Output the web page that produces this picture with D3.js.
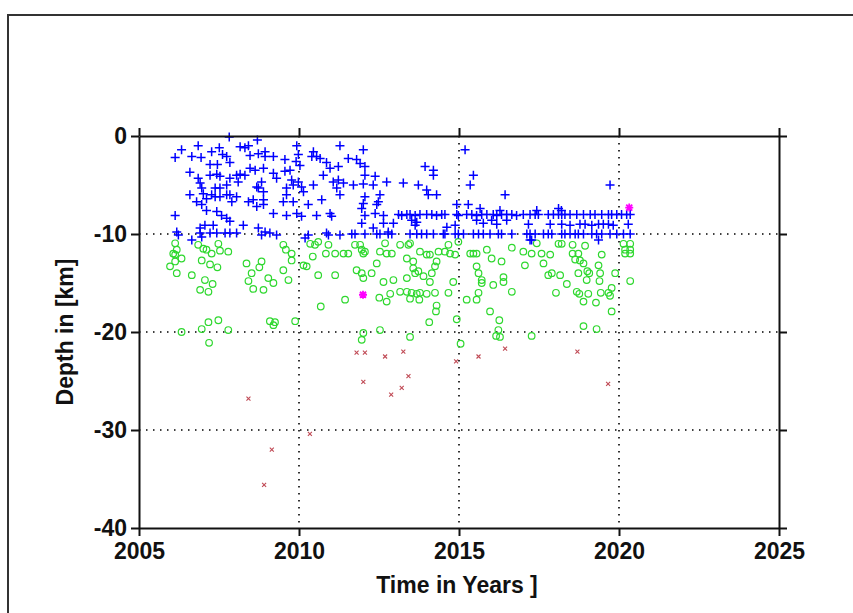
<!DOCTYPE html>
<html>
<head>
<meta charset="utf-8">
<script src="https://cdn.jsdelivr.net/npm/d3@7"></script>
<style>
  body { margin: 0; background: #fff; }
  svg text { font-family: "Liberation Sans", Arial, sans-serif; font-weight: bold; fill: #111; }
</style>
</head>
<body>
<script>

// shallow events, 0 to -10 km  [year, depth]
const bluePts = [
  [2007.82,-0.1],[2006.33,-1.4],[2006.13,-2.2],[2006.85,-1.0],[2006.65,-2.1],[2006.94,-2.2],[2007.27,-1.6],[2007.51,-1.2],
  [2007.61,-1.9],[2007.74,-2.1],[2007.84,-2.7],[2007.22,-2.9],[2007.45,-2.9],[2008.16,-1.1],[2008.31,-1.2],[2008.42,-1.0],
  [2008.70,-0.4],[2008.47,-2.0],[2008.73,-1.8],[2008.94,-1.6],[2008.94,-2.1],[2009.20,-2.1],[2009.56,-2.4],[2009.93,-1.0],
  [2009.98,-1.9],[2009.91,-2.6],[2010.03,-3.0],[2010.45,-1.6],[2010.55,-2.1],[2010.40,-2.1],[2010.66,-2.3],[2010.86,-2.7],
  [2011.23,-3.1],[2011.28,-1.0],
  [2006.59,-3.7],[2006.85,-4.3],[2006.91,-4.8],[2007.22,-4.0],[2007.43,-3.9],[2007.53,-4.1],[2007.84,-4.3],[2008.05,-4.0],
  [2008.16,-3.9],[2008.31,-4.0],[2008.10,-4.7],[2007.74,-5.0],[2007.84,-6.0],[2006.96,-5.3],[2007.01,-5.9],[2007.38,-5.3],
  [2007.53,-5.3],[2007.27,-6.0],[2008.47,-3.3],[2008.63,-3.5],[2008.89,-3.3],[2008.83,-4.7],[2008.68,-5.2],[2009.20,-3.8],
  [2009.30,-4.3],[2009.56,-3.6],[2009.72,-3.5],[2009.77,-4.5],[2009.82,-5.0],[2009.61,-5.3],[2009.98,-4.7],[2010.08,-5.2],
  [2010.14,-5.7],[2010.45,-5.0],[2010.76,-4.0],[2010.97,-3.3],[2011.07,-4.7],[2011.23,-4.5],[2011.39,-4.8],
  [2006.59,-6.0],[2006.80,-6.7],[2007.11,-6.4],[2007.38,-6.2],[2007.53,-6.2],[2007.74,-6.0],[2007.90,-6.7],[2008.05,-6.2],
  [2006.96,-7.0],[2007.11,-7.6],[2007.43,-7.7],[2007.58,-8.1],[2007.74,-8.4],[2007.84,-8.7],[2007.06,-9.1],[2006.91,-9.4],
  [2007.32,-9.1],[2008.26,-9.1],[2008.42,-6.7],[2008.57,-6.5],[2008.68,-7.2],[2008.89,-5.7],[2008.73,-5.3],[2008.89,-6.5],
  [2008.89,-7.0],[2009.20,-7.9],[2009.51,-6.7],[2009.61,-6.0],[2009.82,-6.7],[2009.61,-8.1],[2009.93,-7.9],[2010.08,-8.2],
  [2010.29,-7.0],[2010.55,-8.1],[2010.71,-6.5],[2010.97,-7.9],[2011.02,-8.2],[2011.18,-5.3],[2011.28,-6.0],
  [2006.13,-8.1],[2006.18,-9.8],[2006.23,-10.1],[2006.91,-9.9],[2006.96,-10.3],[2007.22,-9.9],[2007.43,-9.9],[2007.69,-9.9],
  [2007.84,-9.9],[2008.05,-9.9],[2006.65,-10.6],[2008.73,-9.4],[2008.83,-10.1],[2008.94,-9.8],[2009.09,-9.9],[2009.30,-10.1],
  [2010.19,-10.4],[2010.29,-10.1],[2010.86,-9.9],[2010.92,-10.1],[2011.28,-10.1],
  [2012.01,-1.4],[2011.54,-2.3],[2011.80,-2.4],[2011.91,-2.8],[2012.06,-3.1],[2011.70,-5.0],[2012.01,-4.9],[2012.32,-5.0],
  [2012.06,-4.0],[2012.38,-4.1],[2012.74,-4.7],[2013.26,-4.8],[2013.73,-5.0],[2013.94,-3.1],[2014.20,-3.5],[2014.20,-4.0],
  [2013.99,-5.5],[2014.04,-6.0],[2014.30,-6.0],[2012.53,-6.0],[2012.48,-6.7],[2012.06,-6.2],[2012.01,-6.9],[2011.96,-7.4],
  [2012.06,-8.1],[2012.43,-7.0],[2012.38,-7.9],[2012.64,-8.1],[2012.95,-8.9],[2011.96,-8.9],[2012.32,-9.4],[2012.64,-8.9],
  [2013.63,-9.1],[2014.62,-9.3],[2014.93,-7.0],[2014.88,-9.1],[2015.19,-1.4],[2015.45,-4.0],[2015.35,-5.0],[2016.44,-6.0],
  [2015.29,-7.0],[2015.66,-7.4],[2017.43,-7.6],[2017.22,-10.6],[2013.52,-8.6],[2013.68,-8.8],[2015.55,-8.6],[2015.76,-8.9],
  [2016.02,-8.6],[2016.18,-9.0],[2016.49,-8.6],[2017.17,-9.0],[2016.28,-7.6],[2012.79,-9.8],
  [2013.11,-8.0],[2013.21,-8.1],[2013.37,-8.0],[2013.47,-8.0],[2013.63,-8.1],[2013.78,-8.0],[2013.99,-8.0],[2014.15,-8.0],
  [2014.30,-8.1],[2014.46,-8.0],[2014.56,-8.0],[2014.93,-8.0],[2014.98,-8.1],[2015.24,-8.0],[2015.40,-8.0],[2015.55,-8.1],
  [2015.71,-8.0],[2015.87,-8.0],[2016.07,-8.0],[2016.18,-8.1],[2016.33,-8.0],[2016.49,-8.0],[2016.65,-8.0],[2016.80,-8.1],
  [2017.01,-8.0],[2017.22,-8.0],[2017.48,-8.0],[2017.79,-8.0],[2017.38,-8.0],[2017.95,-8.0],[2018.11,-8.0],[2018.21,-8.0],
  [2018.31,-8.0],[2018.47,-8.0],[2018.68,-8.0],[2018.89,-8.0],[2019.10,-8.0],[2019.25,-8.0],[2019.46,-8.0],[2019.67,-8.0],
  [2019.77,-8.0],[2019.93,-8.0],[2020.08,-8.0],[2020.24,-8.0],[2020.35,-8.0],
  [2017.85,-9.0],[2018.21,-9.0],[2018.47,-9.1],[2018.78,-9.0],[2018.94,-9.0],[2019.15,-9.1],[2019.36,-9.0],[2019.51,-9.0],
  [2019.67,-9.0],[2019.82,-9.1],[2020.29,-9.0],
  [2011.65,-10.0],[2011.75,-10.0],[2012.06,-10.0],[2012.43,-10.0],[2012.53,-10.0],[2012.79,-10.0],[2012.90,-10.0],[2013.47,-10.0],
  [2013.68,-10.0],[2013.83,-10.0],[2013.99,-10.0],[2014.20,-10.0],[2014.51,-10.0],[2014.56,-10.0],[2014.88,-10.0],[2014.98,-10.0],
  [2015.14,-10.0],[2015.45,-10.0],[2015.61,-10.0],[2015.76,-10.0],[2015.97,-10.0],[2016.23,-10.0],[2016.33,-10.0],[2016.65,-10.0],
  [2017.12,-10.0],[2017.22,-10.0],[2017.38,-10.0],[2017.64,-10.0],[2017.79,-10.0],[2017.90,-10.0],[2018.21,-10.0],[2018.31,-10.0],
  [2018.47,-10.0],[2018.63,-10.0],[2018.73,-10.0],[2018.89,-10.0],[2019.15,-10.0],[2019.30,-10.0],[2019.46,-10.0],[2019.72,-10.0],
  [2019.93,-10.0],[2020.14,-10.0],[2020.35,-10.0],
  [2018.11,-7.4],[2018.20,-7.6],[2019.72,-5.0],[2019.36,-10.6],[2017.27,-10.6]
]

// middle events, -10 to -21 km
const greenPts = [
  [2006.13,-10.95],[2006.07,-12.0],[2006.18,-11.6],[2006.13,-12.1],[2006.33,-12.5],[2006.13,-12.8],[2005.97,-13.3],[2006.18,-14.0],
  [2006.65,-14.2],[2006.85,-11.1],[2007.01,-11.5],[2007.11,-11.6],[2007.27,-12.0],[2007.53,-11.7],[2007.79,-11.8],[2007.48,-11.0],
  [2006.96,-12.7],[2007.22,-13.1],[2007.45,-13.4],[2007.06,-14.7],[2007.30,-15.1],[2006.91,-15.7],[2007.17,-15.9],[2006.33,-20.0],
  [2006.96,-19.7],[2007.17,-19.0],[2007.48,-18.8],[2007.79,-19.8],[2007.19,-21.1],[2008.36,-13.0],[2008.83,-12.8],[2008.76,-13.4],
  [2008.52,-14.0],[2008.42,-14.8],[2008.57,-15.6],[2008.89,-15.7],[2009.04,-14.5],[2009.20,-15.0],[2009.51,-11.1],[2009.59,-11.6],
  [2009.77,-12.0],[2009.77,-12.7],[2009.51,-13.7],[2009.67,-14.7],[2009.09,-18.9],[2009.25,-19.0],[2009.20,-19.3],[2009.88,-18.9],
  [2010.14,-13.2],[2010.24,-13.3],[2010.35,-11.0],[2010.43,-12.3],[2010.50,-11.1],[2010.60,-10.8],[2010.84,-12.0],[2011.13,-12.0],
  [2011.39,-12.0],[2011.54,-12.0],[2010.92,-11.1],[2010.60,-14.2],[2011.13,-14.2],[2010.68,-17.4],[2011.44,-16.7],
  [2011.75,-11.1],[2011.91,-11.1],[2012.01,-12.0],[2012.06,-11.8],[2011.96,-11.6],[2011.80,-13.7],[2011.96,-14.0],[2012.01,-14.5],
  [2012.27,-14.0],[2012.43,-13.0],[2012.53,-11.8],[2012.69,-10.95],[2012.74,-12.0],[2012.90,-12.0],[2012.64,-14.9],[2012.95,-14.7],
  [2012.51,-16.5],[2012.74,-16.9],[2012.85,-16.1],[2012.53,-19.8],[2012.01,-20.1],[2011.96,-20.8],[2013.16,-11.1],[2013.42,-11.1],
  [2013.47,-10.95],[2013.37,-12.5],[2013.57,-12.8],[2013.16,-15.9],[2013.37,-15.9],[2013.52,-16.0],[2013.68,-16.1],[2013.78,-16.0],
  [2013.47,-16.6],[2013.76,-16.7],[2013.37,-14.5],[2013.63,-14.0],[2013.73,-13.8],[2013.89,-14.3],[2013.57,-13.5],[2013.78,-11.8],
  [2014.09,-12.1],[2013.99,-12.1],[2014.30,-12.8],[2014.25,-13.3],[2014.15,-14.0],[2014.09,-14.9],[2014.36,-11.8],[2014.56,-11.8],
  [2014.67,-11.1],[2014.72,-12.0],[2014.88,-12.1],[2013.99,-16.1],[2014.25,-16.0],[2014.67,-16.0],[2014.30,-17.3],[2014.28,-17.9],
  [2014.07,-19.0],[2013.47,-20.5],[2014.82,-14.9],[2014.93,-18.7],[2015.05,-21.2],[2014.98,-10.8],[2015.24,-16.7],[2015.55,-16.7],
  [2015.61,-16.0],[2015.35,-12.0],[2015.45,-12.0],[2015.55,-12.0],[2015.87,-11.6],[2016.02,-12.5],[2016.33,-12.8],[2016.65,-11.4],
  [2015.55,-13.3],[2015.61,-14.0],[2015.71,-14.7],[2015.71,-15.0],[2016.07,-15.2],[2016.39,-14.4],[2016.39,-14.9],[2016.65,-15.9],
  [2015.97,-17.9],[2016.26,-18.8],[2016.23,-19.8],[2016.16,-20.4],[2016.28,-20.5],[2017.06,-13.2],[2017.01,-11.8],[2017.27,-12.0],
  [2017.58,-12.0],[2017.64,-13.0],[2017.43,-10.95],[2017.27,-20.4],
  [2017.85,-12.1],[2017.79,-14.2],[2017.90,-14.0],[2018.16,-14.2],[2018.37,-15.1],[2018.03,-16.0],[2018.11,-11.0],[2018.21,-11.0],
  [2018.55,-11.1],[2018.94,-11.2],[2018.55,-12.0],[2018.73,-12.0],[2018.63,-12.6],[2018.78,-12.7],[2018.89,-13.0],[2019.46,-12.1],
  [2018.73,-14.0],[2019.01,-13.8],[2019.07,-14.0],[2018.99,-14.7],[2018.68,-15.9],[2018.76,-16.1],[2019.04,-16.1],[2018.89,-16.9],
  [2019.28,-17.0],[2019.36,-13.2],[2019.41,-14.0],[2019.39,-14.8],[2019.88,-14.0],[2019.43,-16.0],[2019.67,-16.0],[2019.72,-16.3],
  [2019.77,-15.5],[2019.77,-17.9],[2018.89,-19.4],[2019.30,-19.7],[2020.14,-11.0],[2020.35,-11.0],[2020.19,-11.6],[2020.35,-11.6],
  [2020.19,-12.0],[2020.35,-12.0],[2020.35,-14.8]
]

// deep events, below -21 km
const redPts = [
  [2008.42,-26.8],[2010.34,-30.4],[2009.15,-32.0],[2008.91,-35.6],[2012.01,-25.1],[2012.88,-26.4],[2013.21,-25.7],[2013.42,-24.5],
  [2014.91,-23.0],[2011.80,-22.1],[2012.06,-22.1],[2012.69,-22.5],[2013.26,-22.0],[2015.61,-22.5],[2016.44,-21.7],[2018.70,-22.0],
  [2019.66,-25.3]
]

// highlighted events
const starPts = [[2020.32,-7.3],[2012.0,-16.2]]

const xTicks = [2005, 2010, 2015, 2020, 2025]
const yTicks = [0, -10, -20, -30, -40]
const xGrid = [2010, 2015, 2020]
const yGrid = [-10, -20, -30]

const WIDTH = 853
const HEIGHT = 613

const plot = { left: 139, right: 779, top: 136, bottom: 528 }

const svg = d3.select('body')
  .append('svg')
  .attr('width', WIDTH)
  .attr('height', HEIGHT)

// outer figure frame
svg.append('rect')
  .attr('x', 8)
  .attr('y', 15)
  .attr('width', 900)
  .attr('height', 700)
  .attr('fill', 'none')
  .attr('stroke', '#333')
  .attr('stroke-width', 2)

const x = d3.scaleLinear().domain([2005, 2025]).range([plot.left, plot.right])
const y = d3.scaleLinear().domain([-40, 0]).range([plot.bottom, plot.top])

// dotted grid
const grid = svg.append('g')
  .attr('stroke', '#000')
  .attr('stroke-width', 1.6)
  .attr('stroke-dasharray', '1.5,5.5')

grid.selectAll('.gx')
  .data(xGrid)
  .enter()
  .append('line')
  .attr('x1', d => x(d)).attr('x2', d => x(d))
  .attr('y1', plot.top).attr('y2', plot.bottom)

grid.selectAll('.gy')
  .data(yGrid)
  .enter()
  .append('line')
  .attr('x1', plot.left).attr('x2', plot.right)
  .attr('y1', d => y(d)).attr('y2', d => y(d))

// markers
svg.append('g')
  .selectAll('path')
  .data(greenPts)
  .enter()
  .append('circle')
  .attr('cx', d => x(d[0]))
  .attr('cy', d => y(d[1]))
  .attr('r', 3.3)
  .attr('fill', 'none')
  .attr('stroke', '#2fd82f')
  .attr('stroke-width', 1.2)

svg.append('g')
  .selectAll('path')
  .data(bluePts)
  .enter()
  .append('path')
  .attr('d', 'M-4.5,0H4.5M0,-4.5V4.5')
  .attr('transform', d => 'translate(' + x(d[0]) + ',' + y(d[1]) + ')')
  .attr('stroke', '#0000ff')
  .attr('stroke-width', 1.5)

svg.append('g')
  .selectAll('path')
  .data(redPts)
  .enter()
  .append('path')
  .attr('d', 'M-2,-2L2,2M-2,2L2,-2')
  .attr('transform', d => 'translate(' + x(d[0]) + ',' + y(d[1]) + ')')
  .attr('stroke', '#c04a55')
  .attr('stroke-width', 1.1)

svg.append('g')
  .selectAll('path')
  .data(starPts)
  .enter()
  .append('path')
  .attr('d', 'M-4,0H4M0,-4V4M-3,-3L3,3M-3,3L3,-3')
  .attr('transform', d => 'translate(' + x(d[0]) + ',' + y(d[1]) + ')')
  .attr('stroke', '#ff00ff')
  .attr('stroke-width', 1.8)

// axes box with outward ticks
const axisStyle = g => {
  g.select('.domain').attr('stroke', '#111').attr('stroke-width', 2)
  g.selectAll('.tick line').attr('stroke', '#111').attr('stroke-width', 2)
  g.selectAll('.tick text').attr('fill', '#111').style('font-size', '23px')
}

const plainNum = d => String(d)

svg.append('g')
  .attr('transform', 'translate(0,' + plot.bottom + ')')
  .call(d3.axisBottom(x).tickValues(xTicks).tickFormat(plainNum).tickSize(8).tickSizeOuter(0).tickPadding(7))
  .call(axisStyle)

svg.append('g')
  .attr('transform', 'translate(0,' + plot.top + ')')
  .call(d3.axisTop(x).tickValues(xTicks).tickFormat('').tickSize(8).tickSizeOuter(0))
  .call(axisStyle)

svg.append('g')
  .attr('transform', 'translate(' + plot.left + ',0)')
  .call(d3.axisLeft(y).tickValues(yTicks).tickFormat(plainNum).tickSize(8).tickSizeOuter(0).tickPadding(4))
  .call(axisStyle)

svg.append('g')
  .attr('transform', 'translate(' + plot.right + ',0)')
  .call(d3.axisRight(y).tickValues(yTicks).tickFormat('').tickSize(8).tickSizeOuter(0))
  .call(axisStyle)

svg.selectAll('.tick text').style('font-family', '"Liberation Sans", Arial, sans-serif')

svg.append('text')
  .attr('x', 457)
  .attr('y', 593)
  .attr('text-anchor', 'middle')
  .style('font-size', '23px')
  .text('Time in Years ]')

svg.append('text')
  .attr('transform', 'translate(73,332) rotate(-90)')
  .attr('text-anchor', 'middle')
  .style('font-size', '23px')
  .text('Depth in [km]')

</script>
</body>
</html>
